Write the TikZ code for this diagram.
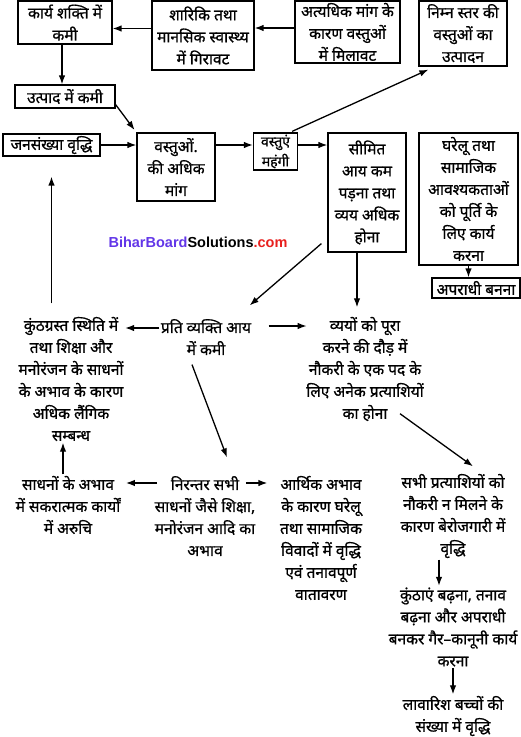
\documentclass[tikz,border=0pt]{standalone}
\usepackage{fontspec}
\setmainfont[Script=Devanagari, FakeBold=0.8]{Noto Sans}
\newfontfamily\wmfont{Liberation Sans}
\usepackage{xcolor}
\usetikzlibrary{positioning}
\usetikzlibrary{calc}
\usetikzlibrary{arrows.meta}
\definecolor{wmblue}{HTML}{6236E8}
\definecolor{wmred}{HTML}{E8201E}
\tikzset{
  box/.style={draw, line width=1.2pt, align=center, inner sep=0.5pt},
  txt/.style={align=center, inner sep=1pt},
}

\begin{document}
\begin{tikzpicture}[x=1pt, y=-1pt, font=\fontsize{15.5}{22}\selectfont,
    >={Latex[length=9pt,width=6.5pt]}, every path/.style={line width=1.3pt}]
    \useasboundingbox (0,0) rectangle (521,737);

    % top row of boxes
    \node[box, minimum width=94pt, minimum height=43pt] (karya) at (65,22.5) {कार्य शक्ति में\\कमी};
    \node[box, minimum width=102pt, minimum height=69pt] (sharirik) at (203,35.5) {शारिकि तथा\\मानसिक स्वास्थ्य\\में गिरावट};
    \node[box, minimum width=105pt, minimum height=62pt] (atyadhik) at (347.5,32) {अत्यधिक मांग के\\कारण वस्तुओं\\में मिलावट};
    \node[box, minimum width=88pt, minimum height=65pt] (nimna) at (463,33.5) {निम्न स्तर की\\वस्तुओं का\\उत्पादन};
    \node[box, minimum width=100pt, minimum height=23pt] (utpad) at (65,96.5) {उत्पाद में कमी};

    % second row
    \node[box, minimum width=97pt, minimum height=22pt] (jansankhya) at (51.5,145) {जनसंख्या वृद्धि};
    \node[box, minimum width=78pt, minimum height=68pt] (vastuon) at (176,167) {वस्तुओं.\\की अधिक\\मांग};
    \node[box, minimum width=44pt, minimum height=37pt, inner sep=0pt,
      font=\fontsize{14}{20}\selectfont] (mahangi) at (275.5,151.5) {वस्तुएं\\महंगी};
    \node[box, minimum width=78pt, minimum height=119pt] (seemit) at (367,192.5) {सीमित\\आय कम\\पड़ना तथा\\व्यय अधिक\\होना};
    \node[box, minimum width=99pt, minimum height=132pt] (gharelu) at (468.5,199) {घरेलू तथा\\सामाजिक\\आवश्यकताओं\\को पूर्ति के\\लिए कार्य\\करना};
    \node[box, minimum width=88pt, minimum height=20pt] (apradhi) at (476,288) {अपराधी बनना};

    \node[font=\wmfont\fontsize{14.5}{16}\selectfont\bfseries] (wm) at (198,242)
      {\textcolor{wmblue}{BiharBoard}Solutions\textcolor{wmred}{.com}};

    % free text
    \node[txt] (prati) at (206,337) {प्रति व्यक्ति आय\\में कमी};
    \node[txt] (kunth) at (71,379) {कुंठग्रस्त स्थिति में\\तथा शिक्षा और\\मनोरंजन के साधनों\\के अभाव के कारण\\अधिक लैंगिक\\सम्बन्ध};
    \node[txt] (vyay) at (365,369) {व्ययों को पूरा\\करने की दौड़ में\\नौकरी के एक पद के\\लिए अनेक प्रत्याशियों\\का होना};
    \node[txt] (sadhan) at (68,505) {साधनों के अभाव\\में सकरात्मक कार्यों\\में अरुचि};
    \node[txt] (nirantar) at (205,516) {निरन्तर सभी\\साधनों जैसे शिक्षा,\\मनोरंजन आदि का\\अभाव};
    \node[txt] (arthik) at (321,538) {आर्थिक अभाव\\के कारण घरेलू\\तथा सामाजिक\\विवादों में वृद्धि\\एवं तनावपूर्ण\\वातावरण};
    \node[txt] (sabhi) at (453,516) {सभी प्रत्याशियों को\\नौकरी न मिलने के\\कारण बेरोजगारी में\\वृद्धि};
    \node[txt] (kunthaen) at (453,627) {कुंठाएं बढ़ना, तनाव\\बढ़ना और अपराधी\\बनकर गैर–कानूनी कार्य\\करना};
    \node[txt] (lavaris) at (453,716) {लावारिश बच्चों की\\संख्या में वृद्धि};

    % connectors, top
    \draw[->] ([yshift=7pt]sharirik.west) -- ([yshift=7pt]sharirik.west -| karya.east);
    \draw[->] ([yshift=4pt]atyadhik.west) -- ([yshift=4pt]atyadhik.west -| sharirik.east);
    \draw[->] ([xshift=-3pt]karya.south) -- ([xshift=-3pt]karya.south |- utpad.north);
    \draw[->, shorten >=3pt] ([yshift=4pt]utpad.south east) -- (vastuon.north west);
    \draw[->] (jansankhya.east) -- (jansankhya.east -| vastuon.west);
    \draw[->] (vastuon.east |- jansankhya.east) -- (mahangi.west |- jansankhya.east);
    \draw[->] (mahangi.east |- jansankhya.east) -- (seemit.west |- jansankhya.east);
    \draw[->] ([xshift=-6pt,yshift=1pt]mahangi.north east) -- ([xshift=10pt,yshift=-3pt]nimna.south west);
    \draw[->] (gharelu.south) -- (gharelu.south |- apradhi.north);

    % connectors, middle
    \draw[->] ([xshift=-6pt,yshift=9pt]seemit.south west) -- ([xshift=-3pt,yshift=12pt]prati.north east);
    \draw[->] ([xshift=-10pt]seemit.south) -- ([xshift=-10pt,yshift=8pt]seemit.south |- vyay.north);
    \draw[->, shorten <=12pt, shorten >=20pt] (kunth.north -| jansankhya.south) -- (jansankhya.south);
    \draw[->] ([yshift=9pt]prati.west) -- ([yshift=9pt]prati.west -| kunth.east);
    \draw[->, shorten >=14pt] ([xshift=16pt,yshift=11pt]prati.east) -- ([xshift=16pt,yshift=11pt]prati.east -| vyay.west);
    \draw[->] ([xshift=-14pt,yshift=-8pt]prati.south) -- ([xshift=22pt,yshift=17pt]nirantar.north);
    \draw[->] ([xshift=35pt,yshift=9pt]vyay.south) -- ([xshift=20pt,yshift=6pt]sabhi.north);

    % connectors, bottom
    \draw[->] ([xshift=4pt,yshift=33pt]nirantar.west) -- ([xshift=4pt,yshift=33pt]nirantar.west -| sadhan.east);
    \draw[->] ([xshift=-11pt,yshift=33pt]nirantar.east) -- ([xshift=-11pt,yshift=33pt]nirantar.east -| arthik.west);
    \draw[->] ([xshift=-5pt]sadhan.north) -- ([xshift=-5pt]sadhan.north |- kunth.south);
    \draw[->] ([xshift=-14pt]sabhi.south) -- ([xshift=-14pt]sabhi.south |- kunthaen.north);
    \draw[->] (kunthaen.south) -- (lavaris.north);
\end{tikzpicture}
\end{document}
